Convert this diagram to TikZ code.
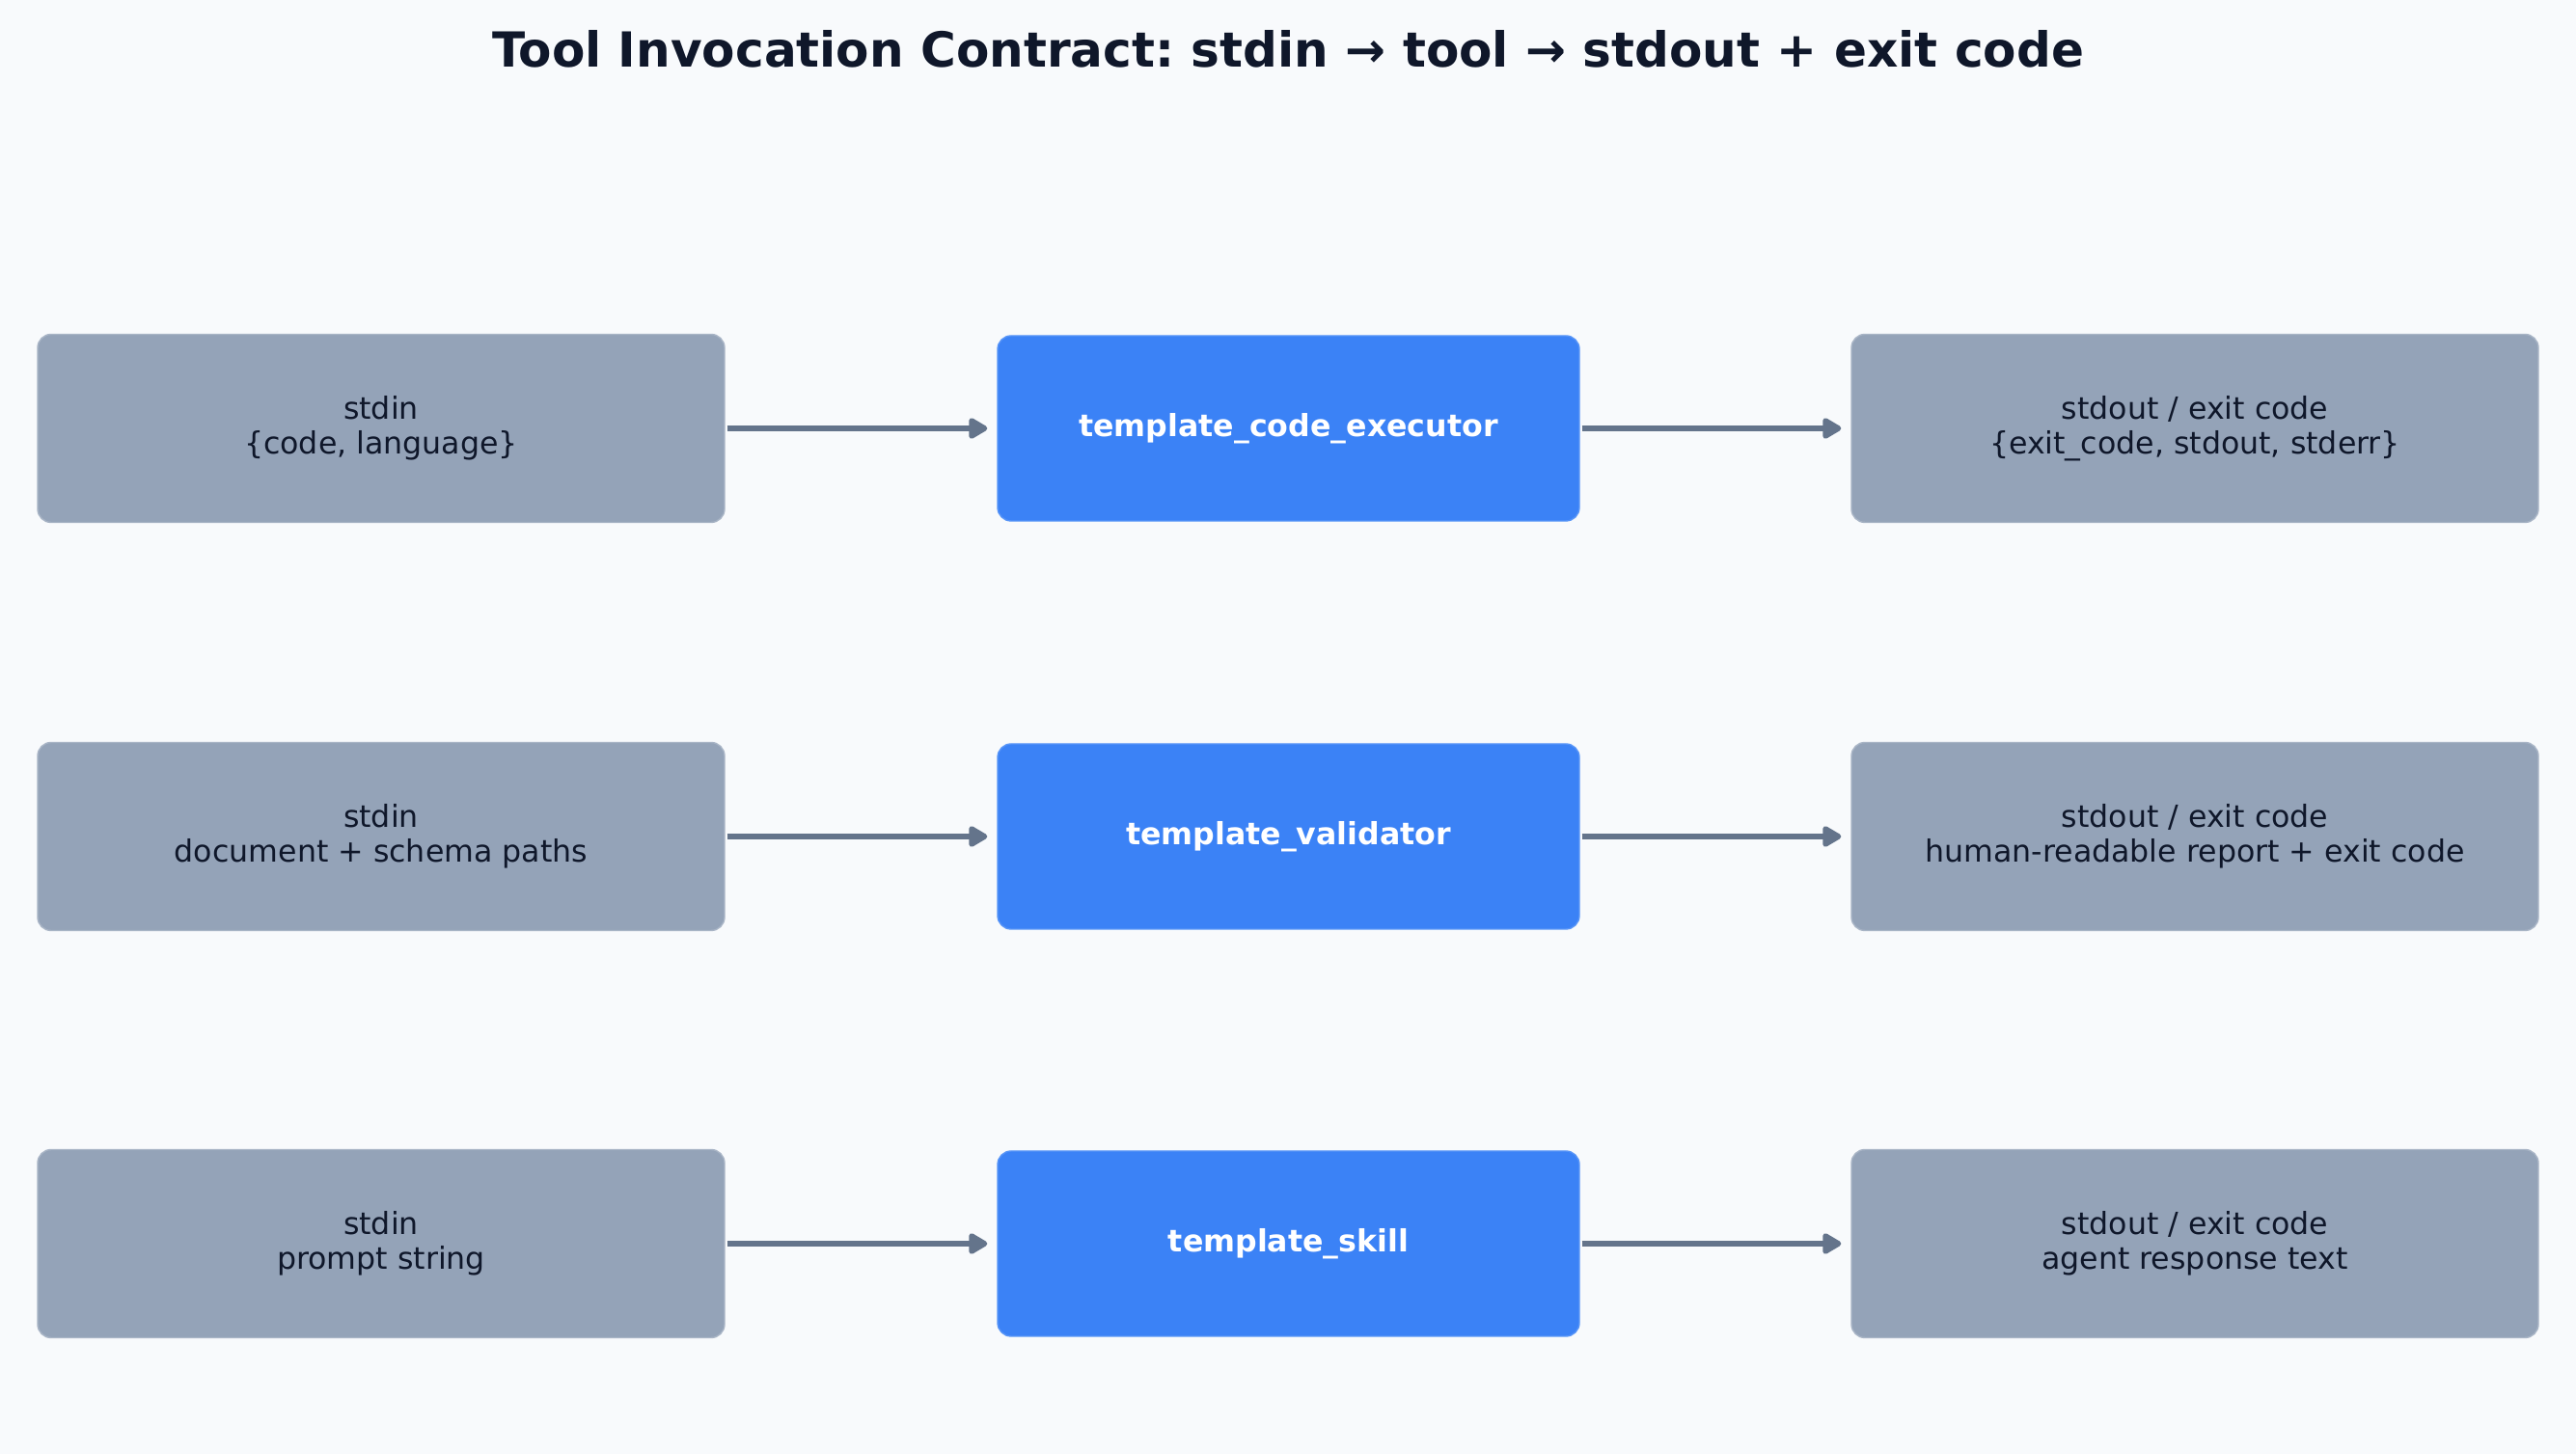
\documentclass[tikz,border=0pt]{standalone}
\usepackage{fontspec}
\setmainfont{DejaVu Sans}
\usetikzlibrary{arrows.meta,positioning}
\definecolor{bgcol}{HTML}{F8FAFC}
\definecolor{iocol}{HTML}{94A3B8}
\definecolor{toolcol}{HTML}{3B82F6}
\definecolor{arrowcol}{HTML}{64748B}
\definecolor{inkcol}{HTML}{0F172A}
\frenchspacing

\begin{document}
\begin{tikzpicture}[
  iobox/.style={fill=iocol, draw=iocol!80!white, line width=0.4pt, rounded corners=0.14cm,
    minimum width=7.12cm, minimum height=1.95cm, inner sep=0pt, align=center,
    text=inkcol, font=\fontsize{9}{10.2}\selectfont},
  toolbox/.style={fill=toolcol, draw=toolcol!85!white, line width=0.4pt, rounded corners=0.14cm,
    minimum width=6.03cm, minimum height=1.92cm, inner sep=0pt,
    text=white, font=\fontsize{9}{10.2}\selectfont\bfseries},
  flow/.style={draw=arrowcol, line width=1.6pt, shorten >=0.1cm, shorten <=0.02cm,
    -{Triangle[length=0.22cm,width=0.24cm,round]}}]
\fill[bgcol] (0,0) rectangle (26.70,15.07);
\useasboundingbox (0,0) rectangle (26.70,15.07);
\node[text=inkcol, font=\fontsize{14.25}{16}\selectfont\bfseries] (title) at (13.35,14.56)
  {Tool Invocation Contract: stdin → tool → stdout + exit code};
% row 1
\node[iobox] (in1) at (3.95,10.63) {stdin\\\{code, language\}};
\node[toolbox] (tool1) at (13.355,10.63) {template\_code\_executor};
\node[iobox] (out1) at (22.75,10.63) {stdout / exit code\\\{exit\_code, stdout, stderr\}};
% row 2
\node[iobox] (in2) at (3.95,6.40) {stdin\\document + schema paths};
\node[toolbox] (tool2) at (13.355,6.40) {template\_validator};
\node[iobox] (out2) at (22.75,6.40) {stdout / exit code\\human-readable report + exit code};
% row 3
\node[iobox] (in3) at (3.95,2.18) {stdin\\prompt string};
\node[toolbox] (tool3) at (13.355,2.18) {template\_skill};
\node[iobox] (out3) at (22.75,2.18) {stdout / exit code\\agent response text};
\foreach \i in {1,2,3}
{
  \draw[flow] (in\i) -- (tool\i);
  \draw[flow] (tool\i) -- (out\i);
}
\end{tikzpicture}
\end{document}
